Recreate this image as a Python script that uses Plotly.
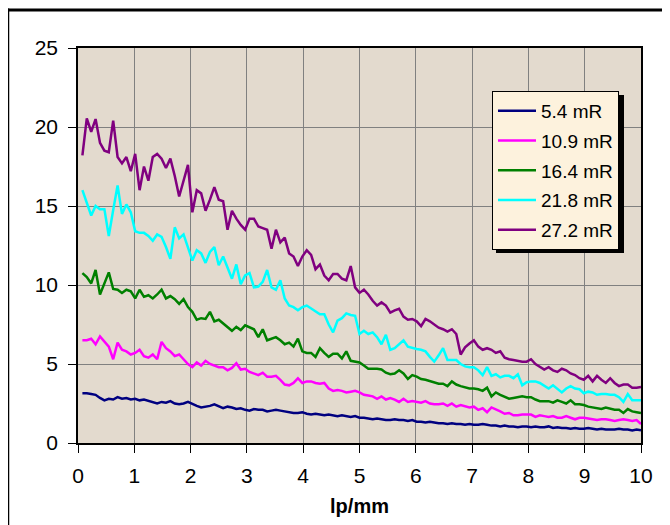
import plotly.graph_objects as go

# ---- data ----
n_points = 128
lp_step = 10.0 / n_points
lp_mm = [round(lp_step * (i + 1), 4) for i in range(n_points)]

series_names = ["5.4 mR", "10.9 mR", "16.4 mR", "21.8 mR", "27.2 mR"]
series_colors = ["#000080", "#FF00FF", "#008000", "#00FFFF", "#800080"]

nps_5_4 = [
    3.15, 3.15, 3.1, 3.05, 2.85, 2.7, 2.8, 2.75,
    2.9, 2.8, 2.85, 2.75, 2.8, 2.7, 2.75, 2.65,
    2.6, 2.5, 2.6, 2.55, 2.65, 2.5, 2.45, 2.5,
    2.6, 2.45, 2.35, 2.25, 2.3, 2.35, 2.45, 2.3,
    2.2, 2.3, 2.25, 2.15, 2.2, 2.1, 2.05, 2.15,
    2.1, 2.1, 2.0, 2.05, 2.1, 2.05, 2.0, 1.95,
    1.9, 1.9, 1.95, 1.85, 1.8, 1.85, 1.8, 1.75,
    1.8, 1.75, 1.7, 1.75, 1.7, 1.65, 1.7, 1.6,
    1.6, 1.55, 1.5, 1.55, 1.5, 1.45, 1.45, 1.5,
    1.45, 1.45, 1.4, 1.45, 1.35, 1.35, 1.3, 1.35,
    1.3, 1.25, 1.25, 1.2, 1.25, 1.2, 1.2, 1.15,
    1.2, 1.15, 1.15, 1.2, 1.15, 1.1, 1.1, 1.05,
    1.1, 1.05, 1.05, 1.0, 1.05, 1.05, 1.0, 1.05,
    1.0, 1.0, 1.05, 0.95, 1.0, 0.95, 0.95, 0.9,
    0.95, 0.9, 0.9, 0.95, 0.9, 0.85, 0.9, 0.85,
    0.85, 0.85, 0.9, 0.85, 0.85, 0.8, 0.85, 0.8,
]

nps_10_9 = [
    6.5, 6.5, 6.6, 6.25, 6.75, 6.4, 6.1, 5.3,
    6.35, 5.9, 5.8, 5.6, 5.7, 5.9, 5.5, 5.4,
    5.6, 5.3, 6.4, 6.0, 5.8, 5.5, 5.6, 5.3,
    5.0, 4.8, 5.1, 4.9, 5.2, 5.0, 4.9, 4.8,
    4.8, 4.6, 4.75, 5.05, 4.65, 4.7, 4.5, 4.4,
    4.3, 4.45, 4.2, 4.2, 4.25, 4.0, 3.7, 3.65,
    3.8, 4.1, 3.8, 3.9, 3.9, 3.8, 3.75, 3.8,
    3.45, 3.3, 3.35, 3.3, 3.2, 3.25, 3.3, 3.2,
    3.05, 3.0, 2.95, 2.8, 2.95, 2.75, 2.85, 2.75,
    2.6, 2.8, 2.6, 2.65, 2.6, 2.55, 2.65, 2.5,
    2.45, 2.45, 2.5, 2.35, 2.5, 2.3, 2.4, 2.3,
    2.25, 2.3, 2.1, 2.2, 1.95, 2.25, 2.15, 2.0,
    1.85, 1.9, 1.75, 1.75, 1.8, 1.8, 1.8, 1.65,
    1.75, 1.7, 1.65, 1.7, 1.6, 1.6, 1.7, 1.6,
    1.5, 1.6, 1.6, 1.55, 1.5, 1.45, 1.5, 1.5,
    1.45, 1.4, 1.45, 1.5, 1.45, 1.4, 1.45, 1.2,
]

nps_16_4 = [
    10.75, 10.5, 10.1, 10.95, 9.4, 10.1, 10.8, 9.75,
    9.7, 9.5, 9.7, 9.6, 9.15, 9.7, 9.25, 9.35,
    9.15, 9.4, 9.7, 9.15, 9.3, 9.1, 8.8, 9.1,
    8.6, 8.3, 7.8, 7.9, 7.85, 8.3, 7.7, 7.8,
    7.55, 7.3, 7.1, 7.35, 7.15, 7.45, 7.3, 7.2,
    6.7, 7.2, 6.5, 6.6, 6.7, 6.5, 6.25, 6.35,
    6.1, 6.6, 5.8, 5.7, 5.7, 5.45, 6.0, 5.7,
    5.45, 5.65, 5.65, 5.35, 5.8, 5.2, 5.15, 5.1,
    4.9, 4.7, 4.7, 4.7, 4.65, 4.45, 4.35, 4.4,
    4.6, 4.4, 4.05, 4.3, 4.2, 4.05, 4.0, 3.9,
    3.8, 3.75, 3.75, 3.6, 3.9, 3.7, 3.6, 3.5,
    3.45, 3.45, 3.4, 3.3, 3.5, 2.95, 3.2, 3.05,
    2.95, 2.8, 2.85, 2.9, 2.95, 2.9, 2.9, 2.75,
    2.65, 2.65, 2.65, 2.55, 2.7, 2.6, 2.5, 2.7,
    2.45, 2.45, 2.4, 2.3, 2.25, 2.2, 2.15, 2.25,
    2.15, 2.1, 2.1, 1.9, 2.15, 2.0, 1.95, 1.9,
]

nps_21_8 = [
    16.0, 15.2, 14.4, 15.0, 14.8, 14.8, 13.1, 14.75,
    16.3, 14.5, 15.1, 14.6, 13.4, 13.3, 13.3, 13.1,
    12.8, 13.2, 13.05, 12.4, 11.65, 13.65, 12.95, 13.2,
    12.4, 11.55, 12.2, 12.0, 11.4, 12.1, 12.4, 11.25,
    11.8, 11.05, 10.4, 11.3, 10.05, 10.6, 10.75, 9.85,
    9.9, 10.2, 10.95, 9.85, 9.7, 10.3, 9.15, 8.7,
    8.6, 8.4, 8.6, 8.7, 8.5, 8.35, 8.15, 8.15,
    7.5, 7.0, 7.75, 7.9, 8.2, 8.1, 8.05, 6.9,
    7.1, 6.9, 7.0, 6.7, 6.25, 6.85, 5.9, 6.0,
    6.25, 6.5, 6.1, 6.0, 5.95, 5.9, 5.8, 5.45,
    5.15, 5.55, 6.0, 5.25, 5.25, 5.25, 5.0, 4.85,
    4.8, 4.8, 4.6, 4.3, 4.8, 4.25, 4.35, 4.15,
    4.25, 4.25, 4.1, 4.35, 3.65, 3.85, 3.9, 3.9,
    3.8, 3.65, 3.45, 3.65, 3.45, 3.2, 3.45, 3.6,
    3.45, 3.4, 3.15, 3.25, 3.2, 3.05, 3.1, 3.1,
    3.05, 3.05, 2.9, 2.6, 3.1, 2.7, 2.7, 2.7,
]

nps_27_2 = [
    18.2, 20.55, 19.7, 20.5, 19.0, 18.5, 18.4, 20.4,
    18.1, 17.7, 18.1, 17.2, 18.3, 16.0, 17.5, 16.6,
    18.1, 18.3, 18.0, 17.4, 18.0, 16.9, 15.6, 16.6,
    17.6, 14.6, 16.0, 15.8, 14.7, 15.4, 16.2, 15.4,
    15.3, 13.5, 14.7, 14.2, 13.8, 13.5, 14.2, 14.2,
    13.7, 13.6, 13.5, 12.3, 13.5, 12.7, 13.0, 12.0,
    11.8, 11.2, 11.8, 12.2, 11.9, 11.0, 11.3, 10.6,
    10.3, 10.7, 10.7, 10.4, 10.3, 11.2, 9.85, 9.5,
    9.7, 9.4, 9.0, 8.7, 8.9, 8.7, 8.25, 8.4,
    8.5, 8.0, 7.8, 7.85, 7.7, 7.4, 7.85, 7.7,
    7.5, 7.3, 7.2, 7.05, 7.2, 6.9, 5.6, 6.05,
    6.3, 6.5, 6.1, 5.9, 6.0, 5.9, 5.7, 5.8,
    5.4, 5.3, 5.25, 5.2, 5.15, 5.15, 5.3, 5.0,
    4.8, 4.65, 4.8, 4.6, 4.5, 4.7, 4.6, 4.4,
    4.3, 4.1, 4.0, 4.25, 3.9, 4.25, 4.0, 3.8,
    4.1, 3.8, 3.6, 3.7, 3.7, 3.5, 3.5, 3.55,
]

x_ticks = [0, 1, 2, 3, 4, 5, 6, 7, 8, 9, 10]
y_ticks = [0, 5, 10, 15, 20, 25]
x_title = "lp/mm"

all_series = [nps_5_4, nps_10_9, nps_16_4, nps_21_8, nps_27_2]

# ---- figure ----
FONT = "Liberation Sans, Arial, sans-serif"
fig = go.Figure()
for name, color, vals in zip(series_names, series_colors, all_series):
    fig.add_trace(go.Scatter(
        x=lp_mm[:len(vals)], y=vals, name=name, mode="lines",
        legendgroup=name,
        line=dict(color=color, width=2.5),
    ))

# the page body has an 8px margin: work in screen pixels, shift by OFF
OFF = 8
W, H = 670 - OFF, 525 - OFF
PL, PR, PT, PB = 78, 641, 48, 443   # plot area in screen pixels
L, R, T, B = PL - OFF, W - (PR - OFF), PT - OFF, H - (PB - OFF)
pw, ph = W - L - R, H - T - B

def px_x(px):
    return (px - OFF - L) / pw

def px_y(py):
    return (H - B - (py - OFF)) / ph

fig.update_layout(
    width=W, height=H,
    margin=dict(l=L, r=R, t=T, b=B, pad=0, autoexpand=False),
    paper_bgcolor="white",
    plot_bgcolor="#e3dace",
    font=dict(family=FONT, color="black", size=20),
    showlegend=True,
    legend=dict(
        x=px_x(492), y=px_y(91), xanchor="left", yanchor="top",
        bgcolor="#fdf2dd", bordercolor="black", borderwidth=1,
        font=dict(family=FONT, size=19, color="black"),
        traceorder="grouped", tracegroupgap=2, itemwidth=38,
    ),
)

fig.update_xaxes(
    range=[0, 10], tickvals=x_ticks, ticktext=[str(t) for t in x_ticks],
    showgrid=True, gridcolor="#808080", gridwidth=1,
    showline=True, linecolor="black", linewidth=1.5, mirror=True,
    ticks="outside", ticklen=8, tickcolor="black", tickwidth=1,
    ticklabelstandoff=5,
    tickfont=dict(size=21, family=FONT),
    title=dict(text="<b>" + x_title + "</b>", font=dict(size=20, family=FONT), standoff=13),
    zeroline=False,
)
fig.update_yaxes(
    range=[0, 25], tickvals=y_ticks,
    showgrid=True, gridcolor="#808080", gridwidth=1,
    showline=True, linecolor="black", linewidth=1.5, mirror=True,
    ticks="outside", ticklen=8, tickcolor="black", tickwidth=1,
    ticklabelstandoff=6,
    tickfont=dict(size=21, family=FONT),
    zeroline=False,
)

# legend shadow
fig.add_shape(type="rect", xref="paper", yref="paper",
              x0=px_x(496), x1=px_x(624), y0=px_y(253), y1=px_y(95),
              fillcolor="black", line=dict(width=0), layer="above")

# outer frame
fig.add_shape(type="line", xref="paper", yref="paper",
              x0=px_x(0), x1=px_x(675), y0=px_y(10), y1=px_y(10),
              line=dict(color="black", width=3))
fig.add_shape(type="line", xref="paper", yref="paper",
              x0=px_x(8), x1=px_x(8), y0=px_y(8.5), y1=px_y(530),
              line=dict(color="black", width=2.5))
fig.add_shape(type="line", xref="paper", yref="paper",
              x0=px_x(667.5), x1=px_x(667.5), y0=px_y(8.5), y1=px_y(530),
              line=dict(color="black", width=2.5))

fig.write_html("out.html")
